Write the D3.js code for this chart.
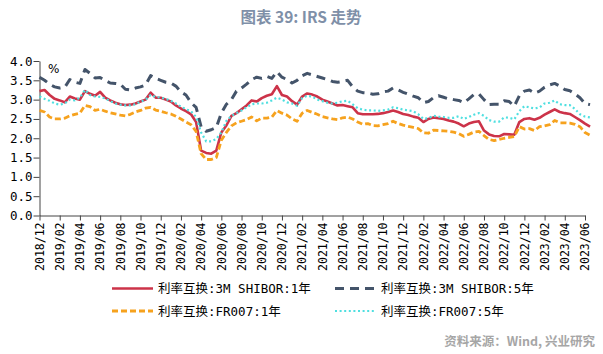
<!DOCTYPE html>
<html><head><meta charset="utf-8">
<script src="https://cdn.jsdelivr.net/npm/d3@7"></script>
<style>
html,body{margin:0;padding:0;background:#fff;}
svg{display:block;}
</style></head>
<body>
<svg id="chart" width="603" height="354"></svg>
<script>
// month index (0 = 2018/12), sampled every half month
const tickLabels = ["2018/12","2019/02","2019/04","2019/06","2019/08","2019/10","2019/12","2020/02","2020/04","2020/06","2020/08","2020/10","2020/12","2021/02","2021/04","2021/06","2021/08","2021/10","2021/12","2022/02","2022/04","2022/06","2022/08","2022/10","2022/12","2023/02","2023/04","2023/06"];
const yTicks = [0,0.5,1,1.5,2,2.5,3,3.5,4];
const seriesNames = ["利率互换:3M SHIBOR:1年","利率互换:3M SHIBOR:5年","利率互换:FR007:1年","利率互换:FR007:5年"];

const shibor1Y = [3.22,3.25,3.12,3.02,2.98,2.93,3.08,3.03,3.00,3.22,3.15,3.10,3.20,3.05,2.98,2.92,2.88,2.86,2.87,2.90,2.95,3.00,
3.18,3.05,3.05,3.00,2.95,2.85,2.77,2.70,2.62,2.42,1.68,1.62,1.60,1.68,2.15,2.33,2.58,2.65,2.75,2.85,2.98,2.95,
3.04,3.10,3.14,3.35,3.12,3.08,2.96,2.87,3.08,3.16,3.13,3.08,3.00,2.95,2.90,2.85,2.86,2.83,2.80,2.65,2.62,2.62,
2.62,2.63,2.65,2.68,2.72,2.68,2.63,2.60,2.56,2.53,2.42,2.50,2.54,2.52,2.50,2.46,2.43,2.38,2.31,2.38,2.42,2.44,
2.20,2.10,2.06,2.05,2.11,2.10,2.09,2.42,2.50,2.52,2.48,2.53,2.61,2.68,2.75,2.68,2.65,2.63,2.55,2.47,2.38,2.30];

const shibor5Y = [3.58,3.50,3.40,3.33,3.30,3.32,3.52,3.45,3.42,3.78,3.68,3.56,3.57,3.50,3.43,3.42,3.40,3.27,3.25,3.30,3.33,3.38,
3.62,3.55,3.50,3.45,3.43,3.35,3.20,3.12,2.92,2.80,2.30,2.18,2.22,2.28,2.65,2.88,3.00,3.22,3.30,3.40,3.52,3.58,
3.55,3.60,3.55,3.72,3.58,3.52,3.43,3.50,3.62,3.68,3.64,3.60,3.56,3.52,3.47,3.45,3.47,3.50,3.33,3.22,3.18,3.17,
3.14,3.15,3.20,3.22,3.30,3.25,3.19,3.14,3.09,3.05,2.92,2.95,3.05,3.10,3.06,3.02,3.00,2.98,2.92,3.02,3.13,3.15,
3.00,2.87,2.88,2.88,2.97,2.95,2.83,3.10,3.22,3.25,3.17,3.22,3.32,3.38,3.42,3.35,3.26,3.23,3.15,3.05,2.90,2.87];

const fr007_1Y = [2.72,2.68,2.55,2.50,2.50,2.52,2.58,2.62,2.65,2.85,2.82,2.72,2.75,2.70,2.66,2.63,2.60,2.58,2.62,2.68,2.72,2.78,
2.80,2.73,2.70,2.66,2.63,2.57,2.50,2.42,2.35,2.18,1.60,1.45,1.45,1.50,1.95,2.15,2.32,2.40,2.44,2.48,2.55,2.45,
2.52,2.52,2.55,2.72,2.65,2.60,2.50,2.44,2.65,2.72,2.67,2.62,2.56,2.53,2.50,2.48,2.53,2.55,2.50,2.42,2.36,2.38,
2.33,2.32,2.35,2.38,2.44,2.38,2.34,2.31,2.28,2.25,2.14,2.13,2.21,2.20,2.19,2.18,2.16,2.12,2.05,2.10,2.16,2.18,
2.07,1.97,1.94,1.97,2.00,2.02,2.04,2.30,2.24,2.25,2.20,2.30,2.32,2.35,2.46,2.40,2.40,2.39,2.36,2.30,2.15,2.08];

const fr007_5Y = [3.08,3.02,2.97,2.90,2.87,2.90,3.00,2.98,3.05,3.25,3.12,3.08,3.07,3.03,2.96,2.90,2.87,2.85,2.85,2.88,2.95,3.00,
3.12,3.07,3.05,3.02,2.97,2.90,2.82,2.75,2.70,2.55,2.15,1.92,1.92,1.98,2.15,2.45,2.58,2.65,2.72,2.80,2.88,2.90,
2.90,2.92,2.98,3.05,3.00,2.93,2.90,2.84,3.04,3.10,3.08,3.00,2.96,2.92,2.90,2.92,2.96,2.97,2.88,2.78,2.74,2.72,
2.72,2.71,2.72,2.74,2.80,2.78,2.74,2.72,2.70,2.62,2.50,2.52,2.58,2.56,2.55,2.53,2.53,2.57,2.50,2.55,2.61,2.65,
2.58,2.47,2.43,2.43,2.54,2.53,2.49,2.70,2.83,2.80,2.77,2.80,2.90,2.92,2.98,2.88,2.86,2.86,2.76,2.62,2.56,2.54];

const colors = ["#cc3349","#44546a","#f6a21e","#4fdfe0"];
const dashes = [null,"9,6","6,3","2,2.6"];
const widths = [2.6,3,2.8,2.2];
const allSeries = [shibor1Y, shibor5Y, fr007_1Y, fr007_5Y];

const svg = d3.select("#chart");
const x = d3.scaleLinear().domain([0,54]).range([39.5,585]);
const y = d3.scaleLinear().domain([0,4]).range([215.5,61]);

// title
svg.append("text").attr("x",301).attr("y",23).attr("text-anchor","middle")
  .attr("font-family","'Noto Sans CJK SC','Noto Sans',sans-serif").attr("font-weight","bold")
  .attr("font-size","15.5px").attr("fill","#7f90a8").text("图表 39: IRS 走势");

// y axis
const yAxis = d3.axisLeft(y).tickValues(yTicks).tickFormat(d3.format(".1f")).tickSize(6).tickSizeOuter(0);
const gy = svg.append("g").attr("transform","translate(39.5,0)").call(yAxis);
gy.select(".domain").attr("stroke","#444");
gy.selectAll(".tick line").attr("stroke","#444");
gy.selectAll(".tick text").attr("font-family","'DejaVu Sans Mono',monospace").attr("font-size","12.5px").attr("fill","#000").attr("x",-7);

// x axis
const xAxis = d3.axisBottom(x).tickValues(d3.range(0,55,2)).tickFormat((d,i)=>tickLabels[i]).tickSize(5).tickSizeOuter(0);
const gx = svg.append("g").attr("transform","translate(0,215.5)").call(xAxis);
gx.select(".domain").attr("stroke","#444");
gx.selectAll(".tick line").attr("stroke","#444");
gx.selectAll(".tick text").attr("font-family","'DejaVu Sans Mono',monospace").attr("font-size","11.5px").attr("fill","#000")
  .attr("transform","rotate(-90)").attr("text-anchor","end").attr("x",-7).attr("y",0).attr("dy","0.32em").attr("dx",0);

// % label
svg.append("text").attr("x",48).attr("y",73).attr("font-family","'DejaVu Sans',sans-serif").attr("font-size","12px").attr("fill","#000").text("%");

// lines
const line = d3.line().x((d,i)=>x(i*0.5)).y(d=>y(d));
allSeries.forEach((s,k)=>{
  svg.append("path").datum(s).attr("d",line).attr("fill","none")
    .attr("stroke",colors[k]).attr("stroke-width",widths[k])
    .attr("stroke-dasharray",dashes[k]).attr("stroke-linejoin","round");
});

// legend
const legPos = [[112,288.5],[335,288.5],[112,311],[335,311]];
seriesNames.forEach((n,k)=>{
  const [lx,ly] = legPos[k];
  svg.append("line").attr("x1",lx).attr("x2",lx+41).attr("y1",ly).attr("y2",ly)
    .attr("stroke",colors[k]).attr("stroke-width",widths[k]).attr("stroke-dasharray",dashes[k]);
  svg.append("text").attr("x",lx+46).attr("y",ly+4.5)
    .attr("font-family","'DejaVu Sans Mono','Noto Sans CJK SC',monospace").attr("font-size","12.5px").attr("fill","#000")
    .text(n);
});

// source
svg.append("text").attr("x",595).attr("y",346).attr("text-anchor","end")
  .attr("font-family","'Noto Sans CJK SC','Noto Sans',sans-serif").attr("font-weight","bold")
  .attr("font-size","12.5px").attr("fill","#a6a6a6").text("资料来源：Wind, 兴业研究");
</script>
</body></html>
